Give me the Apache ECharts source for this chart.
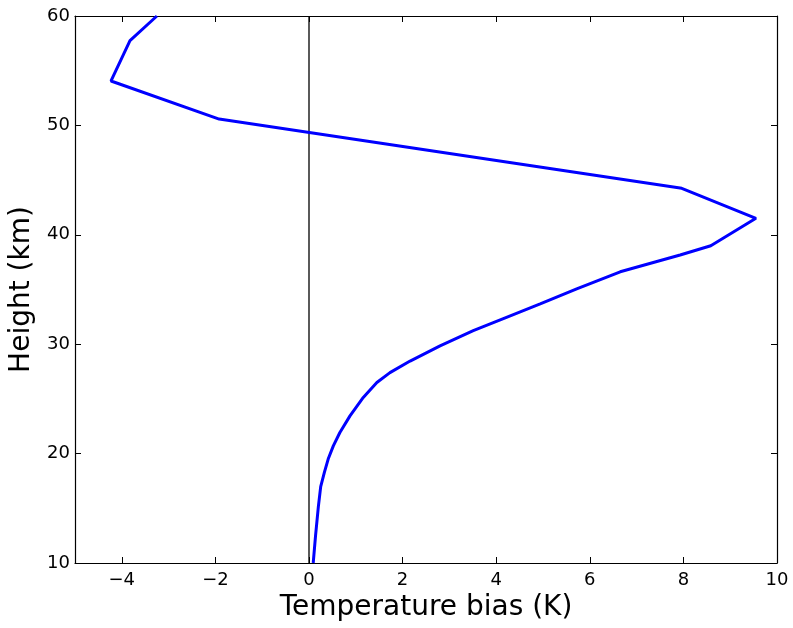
<!DOCTYPE html>
<html>
<head>
<meta charset="utf-8">
<script src="https://cdn.jsdelivr.net/npm/echarts@6/dist/echarts.min.js"></script>
<style>
  html, body { margin: 0; padding: 0; background: #fff; }
  #chart { width: 793px; height: 628px; }
</style>
</head>
<body>
<div id="chart"></div>
<script>
// temperature bias (K) against height (km)
const biasK = [0.09, 0.14, 0.20, 0.25, 0.33, 0.41, 0.52, 0.66, 0.876, 1.16, 1.45, 1.73, 2.16,
               2.80, 3.51, 4.22, 4.94, 5.72, 6.65, 7.93, 8.585, 9.55, 7.965, -1.92,
               -4.23, -3.825, -3.25];
const heightKm = [10.0, 12.5, 15.15, 16.98, 18.3, 19.5, 20.71, 21.93, 23.45, 25.13, 26.5, 27.4, 28.46,
                  29.85, 31.24, 32.46, 33.68, 35.05, 36.62, 38.15, 39.0, 41.51, 44.25, 50.58,
                  54.06, 57.74, 60.0];
const xTicks = [-4, -2, 0, 2, 4, 6, 8, 10];
const yTicks = [10, 20, 30, 40, 50, 60];

const profile = biasK.map(function (v, i) { return [v, heightKm[i]]; });
const zeroLine = [[0, 10], [0, 60]];

const font = 'DejaVu Sans';
const minus = function (v) { return String(v).replace('-', '\u2212'); };

const chart = echarts.init(document.getElementById('chart'));

const axisLine = { show: true, onZero: false, lineStyle: { color: '#000', width: 1.2 } };
const tick = { show: true, inside: true, length: 6, lineStyle: { color: '#000', width: 1 } };
const xTick = Object.assign({}, tick, { customValues: xTicks });
const yTick = Object.assign({}, tick, { customValues: yTicks });

chart.setOption({
    animation: false,
    backgroundColor: '#fff',
    grid: { left: 75, right: 16, top: 16, bottom: 65, containLabel: false, outerBoundsMode: 'none' },
    xAxis: [
        {
            type: 'value', min: -5, max: 10, interval: 1,
            name: 'Temperature bias (K)', nameLocation: 'middle', nameGap: 30,
            nameTextStyle: { fontFamily: font, fontSize: 28, color: '#000' },
            axisLine: axisLine,
            axisTick: xTick,
            axisLabel: {
                fontFamily: font, fontSize: 18, color: '#000', margin: 8,
                customValues: xTicks,
                formatter: function (v) { return minus(v); }
            },
            splitLine: { show: false }
        },
        {
            type: 'value', position: 'top', min: -5, max: 10, interval: 1,
            axisLine: axisLine, axisTick: xTick, axisLabel: { show: false }, splitLine: { show: false }
        }
    ],
    yAxis: [
        {
            type: 'value', min: 10, max: 60, interval: 10,
            name: 'Height (km)', nameLocation: 'middle', nameGap: 36, nameRotate: 90,
            nameTextStyle: { fontFamily: font, fontSize: 28, color: '#000' },
            axisLine: axisLine, axisTick: yTick,
            axisLabel: { fontFamily: font, fontSize: 18, color: '#000', margin: 5, customValues: yTicks },
            splitLine: { show: false }
        },
        {
            type: 'value', position: 'right', min: 10, max: 60, interval: 10,
            axisLine: axisLine, axisTick: yTick, axisLabel: { show: false }, splitLine: { show: false }
        }
    ],
    series: [
        {
            type: 'line', data: zeroLine, symbol: 'none', silent: true,
            lineStyle: { color: '#000', width: 1.3 }
        },
        {
            type: 'line', data: profile, symbol: 'none', clip: true,
            lineStyle: { color: '#0000ff', width: 3 }
        }
    ]
});
</script>
</body>
</html>
